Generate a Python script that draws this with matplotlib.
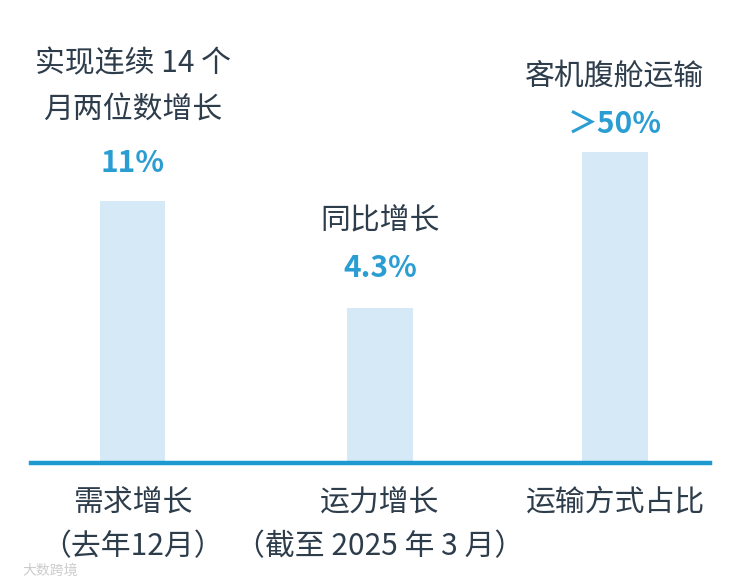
import matplotlib.pyplot as plt
import numpy as np

plt.rcParams['font.family'] = ['Noto Sans CJK SC', 'DejaVu Sans']

# categories (shown under the baseline)
categories = ['需求增长\n（去年12月）', '运力增长\n（截至 2025 年 3 月）', '运输方式占比']
# headline text over each bar
headlines = ['实现连续 14 个\n月两位数增长', '同比增长', '客机腹舱运输']
# value labels as printed
value_labels = ['11%', '4.3%', '＞50%']
# visual bar heights (the bars are not drawn to scale)
bar_heights = [262, 155, 311]

bar_color = '#d5eaf6'
line_color = '#1f9ad0'
pct_color = '#2a9dd2'
text_color = '#2e3d4b'

fig = plt.figure(figsize=(7.41, 5.80), dpi=100)
ax = fig.add_axes([31 / 741, 117 / 580, 679 / 741, 463 / 580])

x = np.array([0, 1.025, 2])
ax.bar(x, bar_heights, width=0.27, color=bar_color, zorder=1)

ax.set_xlim(-0.423, 2.394)
ax.set_ylim(0, 463)

# baseline
ax.axhline(0, color=line_color, linewidth=3.2, zorder=3, clip_on=False)

for s in ax.spines.values():
    s.set_visible(False)
ax.set_yticks([])
ax.set_xticks(x)
ax.set_xticklabels(categories, fontsize=21.5, color=text_color, linespacing=1.58)
ax.tick_params(axis='x', length=0, pad=17)

# offsets above the bar top (px == data units here)
pct_off = [38, 40, 27]
head_off = [114, 88, 76]
for i in range(len(x)):
    top = bar_heights[i]
    ax.text(x[i], top + pct_off[i], value_labels[i], ha='center', va='center',
            fontsize=21.5, fontweight='bold', color=pct_color)
    ax.text(x[i], top + head_off[i], headlines[i], ha='center', va='center',
            fontsize=21.5, color=text_color, linespacing=1.62)

# faint watermark
fig.text(0.03, 0.016, '大数跨境', fontsize=10, color='#cccccc', ha='left', va='center')

fig.savefig('out.png', dpi=100, facecolor='white')
